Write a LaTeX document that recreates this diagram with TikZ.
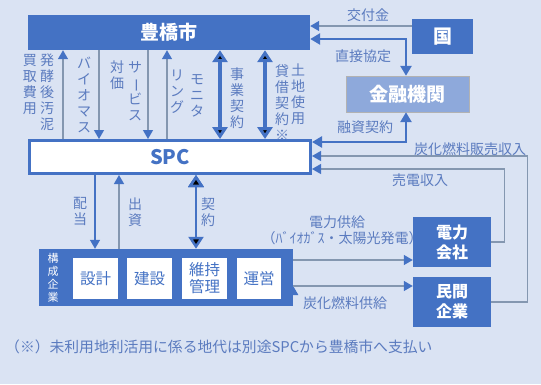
\documentclass[tikz,border=0pt]{standalone}
\usepackage{fontspec}
\usepackage{graphicx}
\setmainfont{Noto Sans CJK JP}
\usetikzlibrary{arrows.meta,positioning}
\definecolor{bgblue}{HTML}{DAE3F3}
\definecolor{mainblue}{HTML}{4472C4}
\definecolor{lightblue}{HTML}{8EA9DB}
\definecolor{lineblue}{HTML}{8497B0}
\definecolor{textblue}{HTML}{5B7BBF}
\newcommand{\chouon}{\rotatebox[origin=c]{-90}{ー}}

\begin{document}
\begin{tikzpicture}[x=1pt,y=-1pt,
    blue box/.style={fill=mainblue,text=white,font=\bfseries\fontsize{19}{22}\selectfont,inner sep=0pt},
    white box/.style={fill=white,text=mainblue,font=\fontsize{15.5}{17}\selectfont,inner sep=0pt,
                      align=center,minimum width=45pt,minimum height=41pt},
    lbl/.style={text=textblue,font=\fontsize{14}{16}\selectfont,inner sep=0pt},
    tate/.style={lbl,align=center,anchor=north},
    thin arrow/.style={draw=lineblue,line width=1.3pt,-{Triangle[length=9pt,width=10pt,color=mainblue]}},
    mid arrow/.style={draw=mainblue,line width=2.5pt,
                      {Triangle[length=10pt,width=11pt]}-{Triangle[length=10pt,width=11pt]}},
    big arrow/.style={draw=mainblue,line width=3.5pt,
                      {Triangle[length=12pt,width=15pt]}-{Triangle[length=12pt,width=15pt]}}]

  \fill[bgblue] (0,0) rectangle (541,384);

  \node[blue box,minimum width=282pt,minimum height=35pt] (city) at (169,32.5) {豊橋市};
  \node[blue box,minimum width=61pt,minimum height=35pt] (kuni) at (442.5,36.5) {国};
  \node[blue box,fill=lightblue,draw=gray!60,minimum width=123pt,minimum height=36pt] (bank) at (407.5,94) {金融機関};
  \node[draw=mainblue,line width=3pt,fill=white,text=mainblue,font=\bfseries\fontsize{20}{22}\selectfont,
        minimum width=281pt,minimum height=33pt,inner sep=0pt] (spc) at (170,157) {SPC};

  \node[fill=mainblue,minimum width=254pt,minimum height=57pt,inner sep=0pt] (member) at (166,277.5) {};
  \node[text=white,font=\fontsize{11}{13}\selectfont,align=center,inner sep=0pt] (memberlbl) at (53,277.5) {構\\成\\企\\業};
  \node[white box] (sekkei) at (95.5,278.5) {設計};
  \node[white box] (kensetsu) at (149.5,278.5) {建設};
  \node[white box] (iji) at (204.5,278.5) {維持\\管理};
  \node[white box,minimum width=44pt] (unei) at (259,278.5) {運営};

  \node[blue box,font=\bfseries\fontsize{16}{20}\selectfont,align=center,minimum width=78pt,minimum height=50pt] (power) at (452,242) {電力\\会社};
  \node[blue box,font=\bfseries\fontsize{16}{20}\selectfont,align=center,minimum width=78pt,minimum height=50pt] (private) at (452,302) {民間\\企業};

  \path[thin arrow]
    (kuni.west |- 0,26) edge (city.east |- 0,26)
    (spc.north -| 63,0) edge (city.south -| 63,0)
    (city.south -| 99,0) edge (spc.north -| 99,0)
    (city.south -| 148,0) edge (spc.north -| 148,0)
    (spc.north -| 167,0) edge (city.south -| 167,0)
    (spc.south -| 95,0) edge[draw=mainblue] (member.north -| 95,0)
    (member.north -| 119,0) edge (spc.south -| 119,0)
    (member.east |- 0,260) edge (power.west |- 0,260)
    (member.east |- 0,286) edge (private.west |- 0,286);

  \path[big arrow]
    (city.south -| 220,0) edge (spc.north -| 220,0)
    (city.south -| 265,0) edge (spc.north -| 265,0)
    (spc.south -| 196,0) edge[line width=2.5pt] (member.north -| 196,0);

  \draw[mid arrow] (city.east |- 0,39) -| (bank.north -| 406,0);
  \draw[mid arrow] (bank.south -| 406,0) |- (spc.east |- 0,142);
  \draw[thin arrow] (private.east) -- ++(36,0) |- (spc.east |- 0,156);
  \draw[thin arrow] (power.east) -- ++(13,0) |- (spc.east |- 0,169);

  \node[tate] (hakko) at (47,54) {発\\酵\\後\\汚\\泥};
  \node[tate] (kaitori) at (30,54) {買\\取\\費\\用};
  \node[tate] (bio) at (84,57) {バ\\イ\\オ\\マ\\ス};
  \node[tate] (service) at (135,61) {サ\\\chouon\\ビ\\ス};
  \node[tate] (taika) at (117,61) {対\\価};
  \node[tate] (monita) at (197,74) {モ\\ニ\\タ};
  \node[tate] (ring) at (177,70) {リ\\ン\\グ};
  \node[tate] (jigyo) at (237,68) {事\\業\\契\\約};
  \node[tate] (taishaku) at (282,64) {貸\\借\\契\\約\\※};
  \node[tate] (tochi) at (298,64) {土\\地\\使\\用};
  \node[tate] (haito) at (80,197) {配\\当};
  \node[tate] (shusshi) at (135,198) {出\\資};
  \node[tate] (keiyaku) at (208,198) {契\\約};

  \node[lbl] (kofu) at (368,15) {交付金};
  \node[lbl] (chokusetsu) at (363,56) {直接協定};
  \node[lbl] (yushi) at (365,127) {融資契約};
  \node[lbl] (hanbai) at (470,149) {炭化燃料販売収入};
  \node[lbl] (baiden) at (420,180) {売電収入};
  \node[lbl] (kyokyu) at (337,222) {電力供給};
  \node[lbl] (biogas) at (342,238) {（ﾊﾞｲｵｶﾞｽ・太陽光発電）};
  \node[lbl] (tanka) at (345,303) {炭化燃料供給};
  \node[lbl,font=\fontsize{14.8}{17}\selectfont,anchor=west] (note) at (5,347) {（※）未利用地利活用に係る地代は別途SPCから豊橋市へ支払い};
\end{tikzpicture}
\end{document}
